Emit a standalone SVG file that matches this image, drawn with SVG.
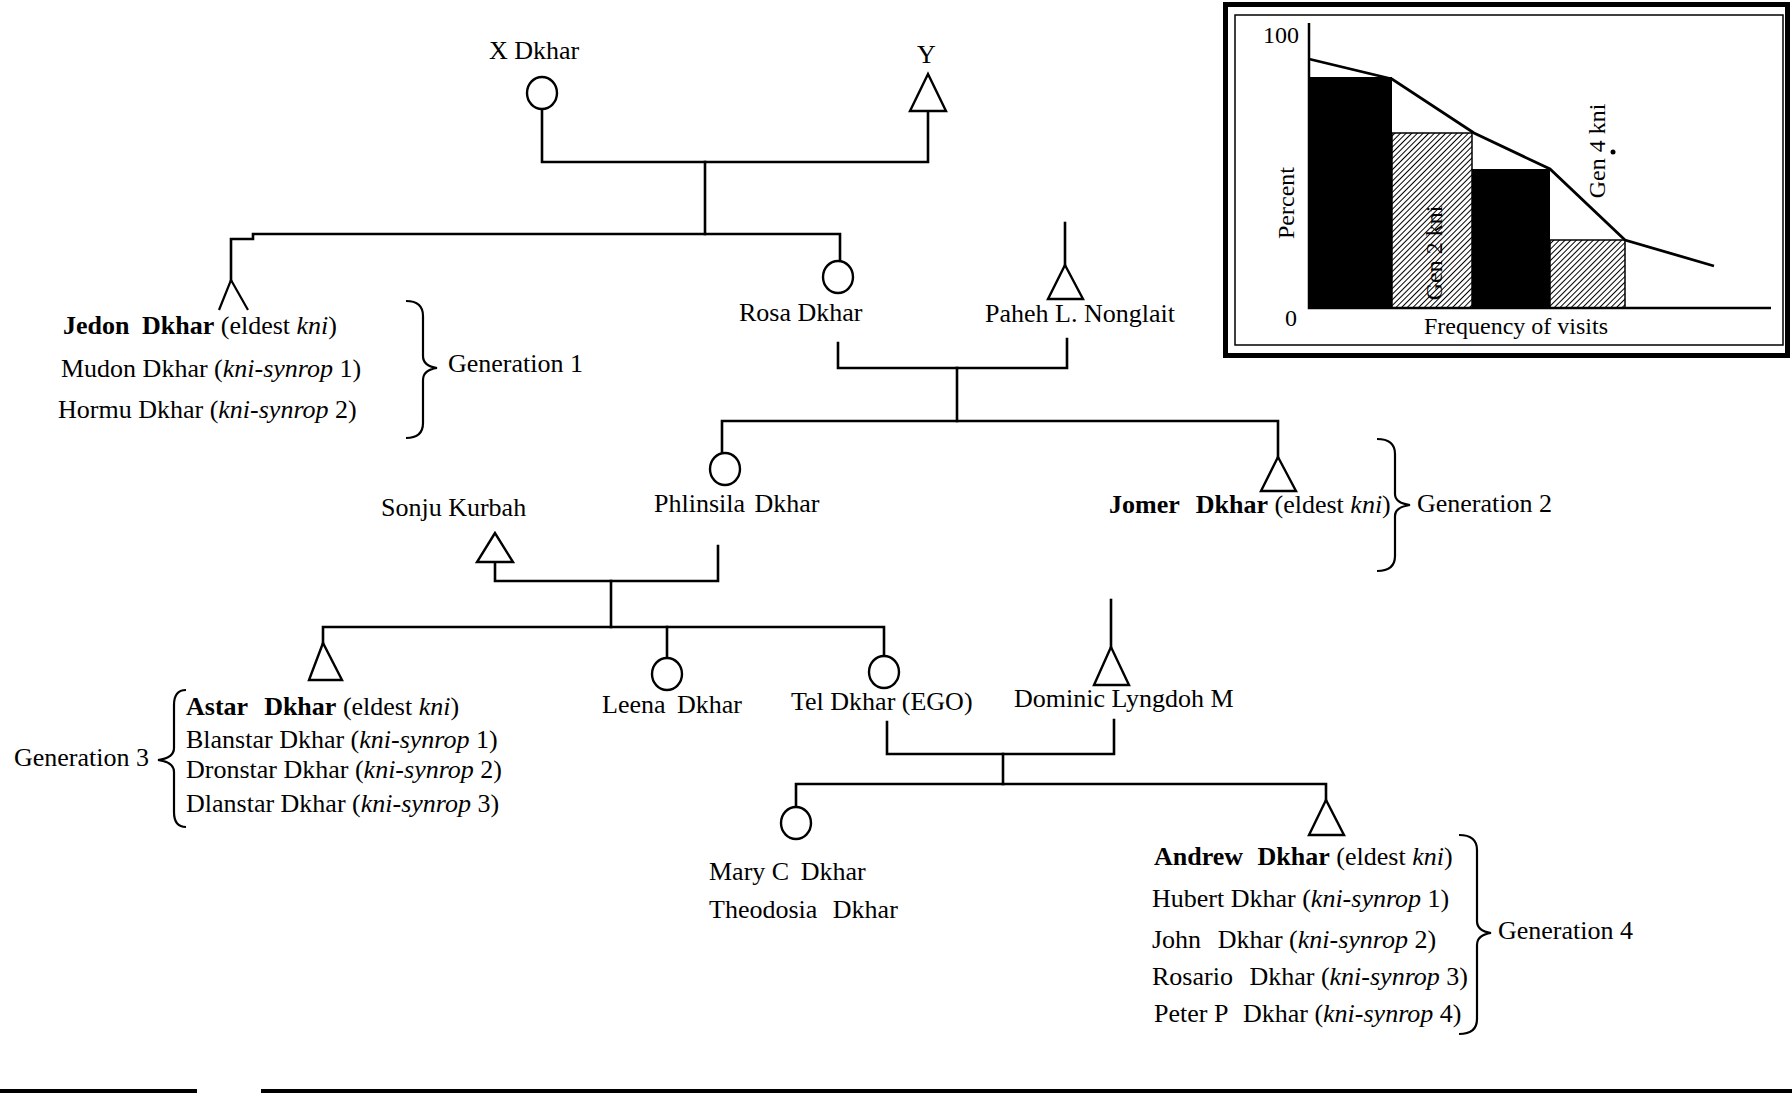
<svg xmlns="http://www.w3.org/2000/svg" width="1792" height="1097" viewBox="0 0 1792 1097">
<defs>
<style>
text{font-family:"Liberation Serif","Times New Roman",serif;font-size:26px;fill:#000}
.b{font-weight:bold}
.i{font-style:italic}
.c{font-size:24px}
.ln{fill:none;stroke:#000;stroke-width:2.6;stroke-linecap:square}
.sym{fill:#fff;stroke:#000;stroke-width:2.4}
.br{fill:none;stroke:#000;stroke-width:2.2}
</style>
<pattern id="hatch" width="4" height="4" patternUnits="userSpaceOnUse" patternTransform="rotate(45)">
<rect width="4" height="4" fill="#fff"/>
<line x1="0" y1="0" x2="0" y2="4" stroke="#000" stroke-width="2"/>
</pattern>
</defs>
<rect width="1792" height="1097" fill="#fff"/>

<g id="connectors">
<path class="ln" d="M542,108 V162 H928 V111"/>
<path class="ln" d="M705,162 V234"/>
<path class="ln" d="M231,280 V239 H253 V234 H840 V261"/>
<path class="ln" d="M1065,223 V265"/>
<path class="ln" d="M838,343 V368 H1067 V339"/>
<path class="ln" d="M957,368 V421"/>
<path class="ln" d="M722,453 V421 H1278 V457"/>
<path class="ln" d="M495,562 V581 H718 V546"/>
<path class="ln" d="M611,581 V627"/>
<path class="ln" d="M323,643 V627 H884 V657"/>
<path class="ln" d="M667,627 V658"/>
<path class="ln" d="M1111,600 V647"/>
<path class="ln" d="M887,722 V754 H1114 V720"/>
<path class="ln" d="M1003,754 V784"/>
<path class="ln" d="M796,807 V784 H1326 V800"/>
</g>

<g id="node-xdkhar">
<ellipse class="sym" cx="542" cy="93" rx="15" ry="16"/>
<text x="489" y="59">X Dkhar</text>
</g>
<g id="node-y">
<polygon class="sym" points="928,74 910,111 946,111"/>
<text x="917" y="63">Y</text>
</g>
<g id="node-jedon">
<polyline class="br" points="219,310 231,280 248,310"/>
</g>
<g id="node-rosa">
<ellipse class="sym" cx="838" cy="277" rx="15" ry="16"/>
<text x="739" y="321">Rosa Dkhar</text>
</g>
<g id="node-paheh">
<polygon class="sym" points="1065,265 1048,299 1083,299"/>
<text x="985" y="322">Paheh L. Nonglait</text>
</g>
<g id="node-gen1">
<text x="63" y="334"><tspan class="b">Jedon <tspan dx="6">Dkhar</tspan></tspan> (eldest <tspan class="i">kni</tspan>)</text>
<text x="61" y="377">Mudon Dkhar (<tspan class="i">kni-synrop</tspan> 1)</text>
<text x="58" y="418">Hormu Dkhar (<tspan class="i">kni-synrop</tspan> 2)</text>
<path class="br" d="M406,301 Q423,301 423,316 L423,356 Q423,366 437,368 Q423,370 423,380 L423,423 Q423,438 406,438"/>
<text x="448" y="372">Generation 1</text>
</g>
<g id="node-phlinsila">
<ellipse class="sym" cx="725" cy="469" rx="15" ry="16"/>
<text x="654" y="512">Phlinsila <tspan dx="3">Dkhar</tspan></text>
</g>
<g id="node-jomer">
<polygon class="sym" points="1278,457 1261,491 1296,491"/>
<text x="1109" y="513"><tspan class="b">Jomer <tspan dx="10">Dkhar</tspan></tspan> (eldest <tspan class="i">kni</tspan>)</text>
<path class="br" d="M1377,439 Q1395,439 1395,454 L1395,494 Q1395,503 1410,505 Q1395,507 1395,516 L1395,556 Q1395,571 1377,571"/>
<text x="1417" y="512">Generation 2</text>
</g>
<g id="node-sonju">
<polygon class="sym" points="495,533 477,562 513,562"/>
<text x="381" y="516">Sonju Kurbah</text>
</g>
<g id="node-astar">
<polygon class="sym" points="323,643 309,680 342,680"/>
<text x="186" y="715"><tspan class="b">Astar <tspan dx="10">Dkhar</tspan></tspan> (eldest <tspan class="i">kni</tspan>)</text>
<text x="186" y="748">Blanstar Dkhar (<tspan class="i">kni-synrop</tspan> 1)</text>
<text x="186" y="778">Dronstar Dkhar (<tspan class="i">kni-synrop</tspan> 2)</text>
<text x="186" y="812">Dlanstar Dkhar (<tspan class="i">kni-synrop</tspan> 3)</text>
<path class="br" d="M186,690 Q174,690 174,705 L174,748 Q174,758 158,760 Q174,762 174,772 L174,812 Q174,827 186,827"/>
<text x="14" y="766">Generation 3</text>
</g>
<g id="node-leena">
<ellipse class="sym" cx="667" cy="674" rx="15" ry="16"/>
<text x="602" y="713">Leena <tspan dx="5">Dkhar</tspan></text>
</g>
<g id="node-tel">
<ellipse class="sym" cx="884" cy="672" rx="15" ry="16"/>
<text x="791" y="710">Tel Dkhar (EGO)</text>
</g>
<g id="node-dominic">
<polygon class="sym" points="1111,647 1094,685 1129,685"/>
<text x="1014" y="707">Dominic Lyngdoh M</text>
</g>
<g id="node-mary">
<ellipse class="sym" cx="796" cy="823" rx="15" ry="16"/>
<text x="709" y="880">Mary C <tspan dx="5">Dkhar</tspan></text>
<text x="709" y="918">Theodosia <tspan dx="9">Dkhar</tspan></text>
</g>
<g id="node-andrew">
<polygon class="sym" points="1326,800 1309,835 1344,835"/>
<text x="1154" y="865"><tspan class="b">Andrew <tspan dx="8">Dkhar</tspan></tspan> (eldest <tspan class="i">kni</tspan>)</text>
<text x="1152" y="907">Hubert Dkhar (<tspan class="i">kni-synrop</tspan> 1)</text>
<text x="1152" y="948">John <tspan dx="10">Dkhar</tspan> (<tspan class="i">kni-synrop</tspan> 2)</text>
<text x="1152" y="985">Rosario <tspan dx="10">Dkhar</tspan> (<tspan class="i">kni-synrop</tspan> 3)</text>
<text x="1154" y="1022">Peter P <tspan dx="9">Dkhar</tspan> (<tspan class="i">kni-synrop</tspan> 4)</text>
<path class="br" d="M1459,835 Q1477,835 1477,850 L1477,921 Q1477,931 1491,933 Q1477,935 1477,945 L1477,1019 Q1477,1034 1459,1034"/>
<text x="1498" y="939">Generation 4</text>
</g>

<g id="chart">
<rect x="1225.5" y="4.5" width="562" height="351" fill="none" stroke="#000" stroke-width="5"/>
<rect x="1235" y="15" width="548" height="330" fill="none" stroke="#000" stroke-width="1.5"/>
<rect x="1309" y="77" width="83" height="231" fill="#000"/>
<rect x="1392" y="133" width="80" height="175" fill="url(#hatch)" stroke="#000" stroke-width="1.5"/>
<rect x="1472" y="169" width="78" height="139" fill="#000"/>
<rect x="1550" y="240" width="75" height="68" fill="url(#hatch)" stroke="#000" stroke-width="1.5"/>
<path d="M1309,23 V308 H1771" fill="none" stroke="#000" stroke-width="2.5"/>
<polyline points="1309,59 1392,79 1474,133 1550,169 1625,240 1714,266" fill="none" stroke="#000" stroke-width="2.8"/>
<text class="c" x="1263" y="43">100</text>
<text class="c" x="1285" y="326">0</text>
<text class="c" transform="translate(1294,203) rotate(-90)" text-anchor="middle">Percent</text>
<text class="c" x="1424" y="334">Frequency of visits</text>
<text class="c" transform="translate(1442,253) rotate(-90)" text-anchor="middle">Gen 2 kni</text>
<text class="c" transform="translate(1605,151) rotate(-90)" text-anchor="middle">Gen 4 kni</text>
<circle cx="1613" cy="152" r="2.5" fill="#000"/>
</g>

<g id="rule">
<line x1="0" y1="1091" x2="197" y2="1091" stroke="#000" stroke-width="4"/>
<line x1="261" y1="1091" x2="1792" y2="1091" stroke="#000" stroke-width="4"/>
</g>
</svg>
